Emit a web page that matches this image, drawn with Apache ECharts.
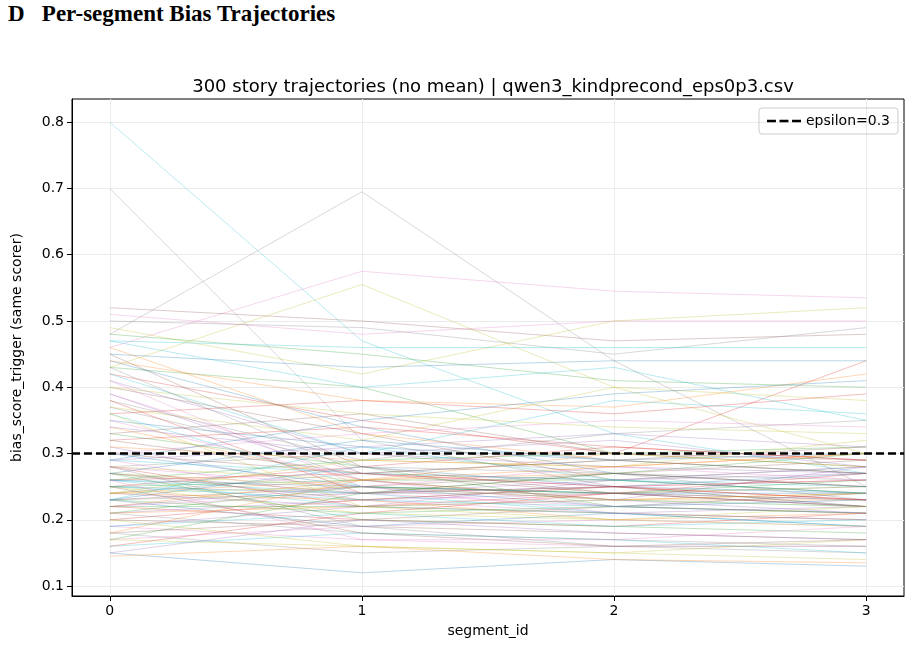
<!DOCTYPE html>
<html>
<head>
<meta charset="utf-8">
<script src="https://cdn.jsdelivr.net/npm/echarts@6/dist/echarts.min.js"></script>
<style>
  body { margin: 0; background: #fff; }
  #head { position: absolute; left: 8px; top: 1px; font: bold 23px "Liberation Serif", serif; }
  #chart { width: 912px; height: 648px; }
</style>
</head>
<body>
<div id="head">D&nbsp;&nbsp;&nbsp;Per-segment Bias Trajectories</div>
<div id="chart"></div>
<script>
/* ---------- 数据 ---------- */
const segments = [0, 1, 2, 3];
const xTicks = [0, 1, 2, 3];
const yTicks = [0.1, 0.2, 0.3, 0.4, 0.5, 0.6, 0.7, 0.8];
const epsilon = 0.3;
const palette = ["#1f77b4", "#ff7f0e", "#2ca02c", "#d62728", "#9467bd",
                 "#8c564b", "#e377c2", "#7f7f7f", "#bcbd22", "#17becf"];
// colours of the first few (outlier) stories, as seen in the picture
const outlierColors = ["#17becf", "#7f7f7f", "#7f7f7f", "#e377c2", "#bcbd22"];

// one row per story: bias at segment 0..3
const trajectories = [
  [0.80, 0.47, 0.33, 0.27], [0.70, 0.32, 0.25, 0.22], [0.48, 0.695, 0.44, 0.25],
  [0.46, 0.575, 0.545, 0.535], [0.43, 0.555, 0.40, 0.30], [0.52, 0.50, 0.47, 0.48],
  [0.51, 0.48, 0.50, 0.50], [0.50, 0.49, 0.45, 0.49], [0.49, 0.42, 0.50, 0.52],
  [0.47, 0.46, 0.46, 0.46], [0.45, 0.43, 0.44, 0.44], [0.44, 0.38, 0.37, 0.42],
  [0.43, 0.40, 0.30, 0.28], [0.42, 0.35, 0.30, 0.44], [0.41, 0.30, 0.28, 0.27],
  [0.40, 0.33, 0.26, 0.24], [0.39, 0.27, 0.25, 0.26], [0.38, 0.29, 0.33, 0.35],
  [0.37, 0.32, 0.40, 0.38], [0.36, 0.25, 0.24, 0.23], [0.35, 0.31, 0.29, 0.30],
  [0.34, 0.26, 0.27, 0.25], [0.33, 0.28, 0.22, 0.21], [0.32, 0.34, 0.31, 0.29],
  [0.31, 0.24, 0.26, 0.27], [0.30, 0.27, 0.24, 0.22], [0.29, 0.23, 0.21, 0.20],
  [0.28, 0.30, 0.27, 0.26], [0.27, 0.25, 0.24, 0.25], [0.26, 0.22, 0.23, 0.22],
  [0.25, 0.24, 0.25, 0.24], [0.24, 0.26, 0.23, 0.23], [0.23, 0.21, 0.22, 0.24],
  [0.22, 0.20, 0.19, 0.21], [0.21, 0.23, 0.24, 0.22], [0.20, 0.19, 0.18, 0.17],
  [0.19, 0.17, 0.16, 0.16], [0.18, 0.15, 0.16, 0.15], [0.17, 0.16, 0.15, 0.14],
  [0.16, 0.18, 0.17, 0.15], [0.15, 0.12, 0.14, 0.13], [0.145, 0.16, 0.14, 0.135],
  [0.26, 0.29, 0.30, 0.31], [0.25, 0.28, 0.31, 0.29], [0.24, 0.22, 0.26, 0.28],
  [0.23, 0.25, 0.27, 0.25], [0.22, 0.24, 0.22, 0.23], [0.27, 0.23, 0.25, 0.22],
  [0.28, 0.26, 0.23, 0.24], [0.29, 0.27, 0.26, 0.25], [0.30, 0.25, 0.22, 0.21],
  [0.31, 0.29, 0.28, 0.30], [0.21, 0.25, 0.24, 0.26], [0.20, 0.23, 0.25, 0.23],
  [0.19, 0.22, 0.21, 0.22], [0.18, 0.20, 0.22, 0.21], [0.17, 0.19, 0.20, 0.19],
  [0.24, 0.27, 0.29, 0.27], [0.25, 0.21, 0.20, 0.22], [0.26, 0.24, 0.21, 0.19],
  [0.23, 0.28, 0.25, 0.27], [0.22, 0.26, 0.28, 0.30], [0.27, 0.20, 0.19, 0.18],
  [0.28, 0.22, 0.24, 0.23], [0.29, 0.31, 0.33, 0.31], [0.33, 0.36, 0.30, 0.29],
  [0.35, 0.26, 0.22, 0.24], [0.37, 0.28, 0.27, 0.23], [0.40, 0.36, 0.34, 0.33],
  [0.42, 0.30, 0.38, 0.36], [0.44, 0.34, 0.27, 0.25], [0.46, 0.33, 0.29, 0.27],
  [0.48, 0.45, 0.41, 0.40], [0.36, 0.38, 0.36, 0.39], [0.34, 0.30, 0.32, 0.28],
  [0.32, 0.27, 0.29, 0.31], [0.30, 0.33, 0.35, 0.34], [0.21, 0.18, 0.17, 0.16],
  [0.20, 0.16, 0.15, 0.17], [0.19, 0.21, 0.19, 0.20], [0.23, 0.19, 0.21, 0.19],
  [0.24, 0.23, 0.20, 0.21], [0.25, 0.26, 0.26, 0.24], [0.26, 0.27, 0.25, 0.26],
  [0.22, 0.25, 0.23, 0.28], [0.27, 0.24, 0.27, 0.29], [0.28, 0.25, 0.28, 0.26],
  [0.23, 0.24, 0.24, 0.25], [0.24, 0.25, 0.23, 0.22], [0.25, 0.23, 0.22, 0.23],
  [0.26, 0.25, 0.24, 0.24], [0.21, 0.22, 0.23, 0.24], [0.22, 0.22, 0.21, 0.20],
  [0.38, 0.24, 0.25, 0.23], [0.39, 0.26, 0.23, 0.21], [0.45, 0.28, 0.24, 0.22],
  [0.41, 0.25, 0.21, 0.20], [0.43, 0.27, 0.26, 0.28], [0.36, 0.22, 0.20, 0.19],
  [0.47, 0.40, 0.43, 0.35], [0.29, 0.35, 0.39, 0.41], [0.18, 0.26, 0.30, 0.28],
  [0.17, 0.24, 0.27, 0.30], [0.16, 0.21, 0.24, 0.27], [0.15, 0.20, 0.18, 0.17],
  [0.25, 0.18, 0.16, 0.17], [0.26, 0.17, 0.17, 0.19], [0.28, 0.19, 0.16, 0.16],
  [0.24, 0.29, 0.28, 0.32], [0.23, 0.31, 0.26, 0.24], [0.27, 0.32, 0.29, 0.27]
];

/* ---------- 图表 ---------- */
const series = trajectories.map((row, i) => ({
  type: "line",
  data: segments.map((s, j) => [s, row[j]]),
  symbol: "none",
  silent: true,
  lineStyle: { width: 1, color: outlierColors[i] || palette[i % 10], opacity: 0.3 },
  z: 2,
}));
series.push({
  name: "epsilon=0.3",
  type: "line",
  data: [[-0.15, epsilon], [3.15, epsilon]],
  symbol: "none",
  itemStyle: { color: "#000" },
  lineStyle: { width: 2.5, color: "#000", type: [8, 4] },
  z: 5,
});

const chart = echarts.init(document.getElementById("chart"));
chart.setOption({
  animation: false,
  textStyle: { fontFamily: "DejaVu Sans" },
  title: {
    text: "300 story trajectories (no mean) | qwen3_kindprecond_eps0p3.csv",
    left: 488, top: 73, textAlign: "center",
    textStyle: { fontSize: 18, fontWeight: "normal", color: "#000" },
  },
  legend: {
    data: [{ name: "epsilon=0.3", icon: "path://M0,0 L10,0 L10,3 L0,3 Z M14,0 L24,0 L24,3 L14,3 Z M28,0 L38,0 L38,3 L28,3 Z",
             itemStyle: { color: "#000" } }],
    right: 14, top: 108, itemWidth: 34, itemHeight: 3,
    borderColor: "#ccc", borderWidth: 1, borderRadius: 3, padding: [6, 8],
    textStyle: { fontSize: 14, color: "#000" },
  },
  grid: { left: 72, right: 8, top: 99, bottom: 52, show: true, borderColor: "#000", borderWidth: 1 },
  xAxis: {
    type: "value", min: -0.15, max: 3.15,
    name: "segment_id", nameLocation: "middle", nameGap: 28,
    nameTextStyle: { fontSize: 14, color: "#000" },
    axisLine: { onZero: false, lineStyle: { color: "#000" } },
    axisTick: { show: true, customValues: xTicks, lineStyle: { color: "#000" } },
    axisLabel: { customValues: xTicks, fontSize: 14, color: "#000" },
    splitLine: { show: true, lineStyle: { color: "#ebebeb" } },
  },
  yAxis: {
    type: "value", min: 0.085, max: 0.835,
    name: "bias_score_trigger (same scorer)", nameLocation: "middle", nameGap: 48,
    nameTextStyle: { fontSize: 14, color: "#000" },
    axisLine: { show: true, onZero: false, lineStyle: { color: "#000" } },
    axisTick: { show: true, customValues: yTicks, lineStyle: { color: "#000" } },
    axisLabel: { customValues: yTicks, fontSize: 14, color: "#000",
                 formatter: (v) => v.toFixed(1) },
    splitLine: { show: true, lineStyle: { color: "#ebebeb" } },
  },
  series,
});
</script>
</body>
</html>
